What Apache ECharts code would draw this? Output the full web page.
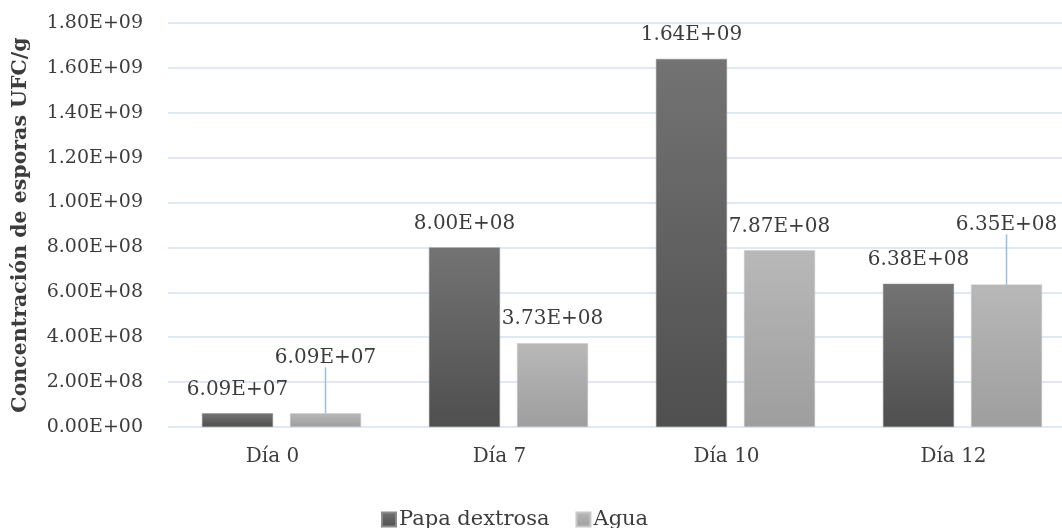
<!DOCTYPE html>
<html>
<head>
<meta charset="utf-8">
<script src="https://cdn.jsdelivr.net/npm/echarts@6/dist/echarts.min.js"></script>
<style>
  html, body { margin: 0; padding: 0; background: #fff; }
  #chart { width: 1062px; height: 528px; }
</style>
</head>
<body>
<div id="chart"></div>
<script>
// Spore concentration per sampling day, two culture media
const categories = ['Día 0', 'Día 7', 'Día 10', 'Día 12'];
const papaDextrosa = [6.09e7, 8.00e8, 1.64e9, 6.38e8];
const agua = [6.09e7, 3.73e8, 7.87e8, 6.35e8];
const seriesNames = ['Papa dextrosa', 'Agua'];
const yMin = 0;
const yMax = 1.8e9;
const yInterval = 2e8;

// Agua labels lifted above the neighbouring label, joined to the bar by a leader line
const raisedAgua = { 0: -32, 3: -36 };

const FONT = 'DejaVu Serif';
const TEXT = '#3c3c3c';

function sci(v) {
  if (v === 0) return '0.00E+00';
  const e = Math.floor(Math.log10(Math.abs(v)));
  const m = v / Math.pow(10, e);
  return m.toFixed(2) + 'E' + (e < 0 ? '-' : '+') + String(Math.abs(e)).padStart(2, '0');
}

function grad(top, bottom) {
  return new echarts.graphic.LinearGradient(0, 0, 0, 1, [
    { offset: 0, color: top },
    { offset: 1, color: bottom }
  ]);
}

const valueLabel = {
  show: true, position: 'top', distance: 14,
  fontFamily: FONT, fontSize: 20, color: TEXT,
  formatter: p => sci(p.value)
};

const aguaData = agua.map((v, i) => (
  raisedAgua[i] !== undefined
    ? { value: v, labelLine: { show: true } }
    : { value: v, labelLine: { show: false } }
));

const chart = echarts.init(document.getElementById('chart'));
chart.setOption({
  animation: false,
  textStyle: { fontFamily: FONT },
  // the plot runs past the right edge of the canvas
  grid: { left: 168, top: 23, width: 908, height: 404, containLabel: false, outerBoundsMode: 'none' },
  legend: {
    top: 504,
    left: 376,
    itemWidth: 14,
    itemHeight: 14,
    itemGap: 26,
    icon: 'rect',
    textStyle: { fontFamily: FONT, fontSize: 21, color: TEXT, padding: [0, 0, 0, -2] },
    data: seriesNames
  },
  xAxis: {
    type: 'category',
    data: categories,
    axisLine: { show: false },
    axisTick: { show: false },
    axisLabel: { fontFamily: FONT, fontSize: 20, color: TEXT, margin: 20, padding: [0, 18, 0, 0] }
  },
  yAxis: {
    type: 'value',
    min: yMin,
    max: yMax,
    interval: yInterval,
    name: 'Concentración de esporas UFC/g',
    nameLocation: 'middle',
    nameGap: 137,
    nameRotate: 90,
    nameTextStyle: { fontFamily: FONT, fontWeight: 'bold', fontSize: 20.5, color: TEXT },
    axisLine: { show: false },
    axisTick: { show: false },
    splitLine: { lineStyle: { color: '#d6e0f0', width: 1.5 } },
    axisLabel: { fontFamily: FONT, fontSize: 19, color: TEXT, margin: 25, formatter: sci }
  },
  series: [
    {
      name: seriesNames[0],
      type: 'bar',
      data: papaDextrosa,
      barWidth: 71,
      barGap: '24%',
      itemStyle: { color: grad('#737373', '#4f4f4f'), borderColor: '#8a8a8a', borderWidth: 0.5 },
      label: valueLabel
    },
    {
      name: seriesNames[1],
      type: 'bar',
      data: aguaData,
      barWidth: 71,
      itemStyle: { color: grad('#b8b8b8', '#9e9e9e'), borderColor: '#c8c8c8', borderWidth: 0.5 },
      label: valueLabel,
      labelLine: { show: false, lineStyle: { color: '#9dbbe0', width: 1.5 } },
      labelLayout: p => (raisedAgua[p.dataIndex] !== undefined ? { dy: raisedAgua[p.dataIndex] } : {})
    }
  ]
});
</script>
</body>
</html>
